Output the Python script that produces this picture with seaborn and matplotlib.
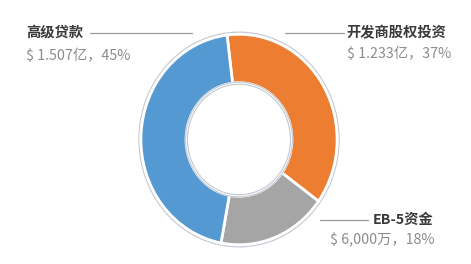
import matplotlib
matplotlib.use("Agg")
import matplotlib.pyplot as plt
import seaborn as sns
from matplotlib.lines import Line2D

sns.set_theme(style="white")
plt.rcParams['font.family'] = ['Noto Sans CJK SC', 'DejaVu Sans']

# data (pie order: clockwise starting near top)
categories = ["开发商股权投资", "EB-5资金", "高级贷款"]
values = [1.233, 0.60, 1.507]
amount_labels = ["$ 1.233亿，37%", "$ 6,000万，18%", "$ 1.507亿，45%"]
colors = ["#ED7D31", "#A5A5A5", "#5599D3"]

W, H = 471, 264
fig = plt.figure(figsize=(W / 100, H / 100), dpi=100)
fig.patch.set_facecolor("white")

def fx(px):
    return px / W

def fy(py):
    return 1 - py / H

# axes sized to the donut bounding box
ax = fig.add_axes([fx(136), fy(250), fx(342) - fx(136), fy(29) - fy(250)])
ax.axis("off")

# faint outline ring (shadow)
ax.pie([1], radius=1.02, colors=["none"],
       wedgeprops=dict(width=0.02, edgecolor="#C4C8D2", linewidth=0.9, fill=False))
ax.pie(values, colors=colors, startangle=97, counterclock=False, radius=1.0,
       wedgeprops=dict(width=0.46, edgecolor="white", linewidth=2.0))
# inner shadow ring
ax.pie([1], radius=0.545, colors=["none"],
       wedgeprops=dict(width=0.02, edgecolor="#C4C8D2", linewidth=0.8, fill=False))
ax.set_xlim(-1.05, 1.05)
ax.set_ylim(-1.05, 1.05)
ax.set_aspect("auto")

title_color = "#3A3A3A"
sub_color = "#8C8C8C"
line_color = "#9A9A9A"
fs = 10.3

# 高级贷款 (left)
fig.text(fx(26), fy(33), categories[2], fontsize=fs, fontweight="bold",
         color=title_color, ha="left", va="center")
fig.text(fx(26), fy(56), amount_labels[2], fontsize=fs, color=sub_color,
         ha="left", va="center")
fig.add_artist(Line2D([fx(90), fx(192)], [fy(33), fy(33)], color=line_color, lw=0.9))

# 开发商股权投资 (right top)
fig.text(fx(346), fy(33), categories[0], fontsize=fs, fontweight="bold",
         color=title_color, ha="left", va="center")
fig.text(fx(347), fy(54), amount_labels[0], fontsize=fs, color=sub_color,
         ha="left", va="center")
fig.add_artist(Line2D([fx(285), fx(344)], [fy(33), fy(33)], color=line_color, lw=0.9))

# EB-5资金 (right bottom)
fig.text(fx(433), fy(220), categories[1], fontsize=fs, fontweight="bold",
         color=title_color, ha="right", va="center")
fig.text(fx(435), fy(240), amount_labels[1], fontsize=fs, color=sub_color,
         ha="right", va="center")
fig.add_artist(Line2D([fx(320), fx(368)], [fy(220), fy(220)], color=line_color, lw=0.9))

fig.savefig("out.png", dpi=100, facecolor="white")
